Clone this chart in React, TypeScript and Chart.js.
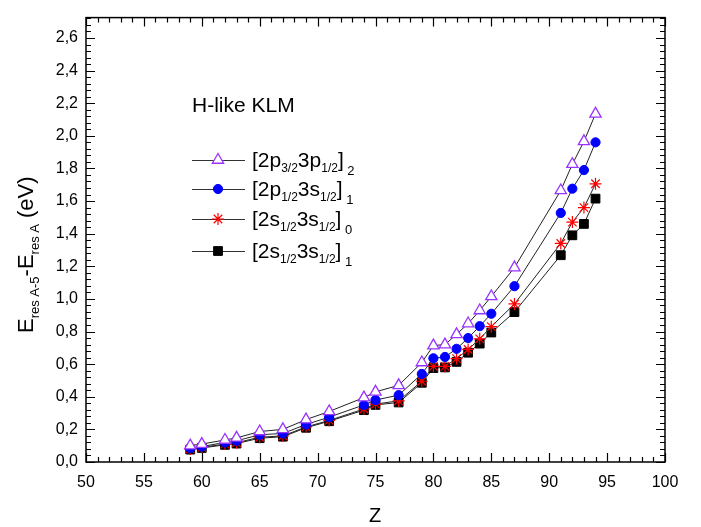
import React, { useEffect, useRef } from 'react';
import { Chart, registerables } from 'chart.js';
Chart.register(...registerables);

const zValues = [59, 60, 62, 63, 65, 67, 69, 71, 74, 75, 77, 79, 80, 81, 82, 83, 84, 85, 87, 91, 92, 93, 94];
const series2p32_3p12_J2 = [0.1, 0.11, 0.135, 0.148, 0.187, 0.2, 0.26, 0.31, 0.395, 0.43, 0.47, 0.61, 0.714, 0.72, 0.783, 0.849, 0.929, 1.015, 1.192, 1.665, 1.826, 1.966, 2.135];
const series2p12_3s12_J1 = [0.085, 0.095, 0.12, 0.13, 0.167, 0.175, 0.23, 0.275, 0.35, 0.38, 0.41, 0.54, 0.636, 0.644, 0.694, 0.76, 0.833, 0.909, 1.078, 1.527, 1.676, 1.79, 1.96];
const series2s12_3s12_J0 = [0.08, 0.09, 0.11, 0.118, 0.152, 0.16, 0.215, 0.255, 0.325, 0.355, 0.375, 0.495, 0.586, 0.586, 0.634, 0.69, 0.755, 0.83, 0.969, 1.34, 1.471, 1.56, 1.706];
const series2s12_3s12_J1 = [0.076, 0.086, 0.105, 0.113, 0.146, 0.155, 0.21, 0.25, 0.318, 0.35, 0.365, 0.486, 0.576, 0.58, 0.614, 0.67, 0.726, 0.794, 0.919, 1.268, 1.39, 1.46, 1.615];

const legendTitle = 'H-like KLM';
// each label: [text, kind] where kind 0 = normal, 1 = subscript, 2 = final subscript
const legendLabels: [string, number][][] = [
  [['[2p', 0], ['3/2', 1], ['3p', 0], ['1/2', 1], [']', 0], [' 2', 2]],
  [['[2p', 0], ['1/2', 1], ['3s', 0], ['1/2', 1], [']', 0], [' 1', 2]],
  [['[2s', 0], ['1/2', 1], ['3s', 0], ['1/2', 1], [']', 0], [' 0', 2]],
  [['[2s', 0], ['1/2', 1], ['3s', 0], ['1/2', 1], [']', 0], [' 1', 2]],
];
const yTitleParts: [string, number][] = [['E', 0], ['res A-5', 1], ['-E', 0], ['res A', 1], [' (eV)', 0]];
const xTitle = 'Z';

const FONT = '"Liberation Sans", Arial, sans-serif';
const PURPLE = '#9933FF';

function drawParts(ctx: CanvasRenderingContext2D, parts: [string, number][], x: number, y: number, mainSize: number, subSize: number, subOff: number, finSize: number, finOff: number) {
  let cx = x;
  for (const [t, k] of parts) {
    const size = k === 0 ? mainSize : k === 1 ? subSize : finSize;
    const off = k === 0 ? 0 : k === 1 ? subOff : finOff;
    ctx.font = `${size}px ${FONT}`;
    ctx.fillText(t, cx, y + off);
    cx += ctx.measureText(t).width;
  }
}

function drawPointShape(ctx: CanvasRenderingContext2D, style: string, r: number, cx: number, cy: number) {
  ctx.beginPath();
  if (style === 'triangle') {
    let rad = 0;
    ctx.moveTo(cx + Math.sin(rad) * r, cy - Math.cos(rad) * r);
    rad += (2 * Math.PI) / 3;
    ctx.lineTo(cx + Math.sin(rad) * r, cy - Math.cos(rad) * r);
    rad += (2 * Math.PI) / 3;
    ctx.lineTo(cx + Math.sin(rad) * r, cy - Math.cos(rad) * r);
    ctx.closePath();
    ctx.fill();
    ctx.stroke();
  } else if (style === 'circle') {
    ctx.arc(cx, cy, r, 0, Math.PI * 2);
    ctx.fill();
    ctx.stroke();
  } else if (style === 'rect') {
    const s = r * Math.SQRT1_2;
    ctx.rect(cx - s, cy - s, 2 * s, 2 * s);
    ctx.fill();
    ctx.stroke();
  } else if (style === 'star') {
    for (let k = 0; k < 4; k++) {
      const a = (k * Math.PI) / 4;
      ctx.moveTo(cx + Math.cos(a) * r, cy + Math.sin(a) * r);
      ctx.lineTo(cx - Math.cos(a) * r, cy - Math.sin(a) * r);
    }
    ctx.stroke();
  }
}

const decoPlugin = {
  id: 'deco',
  afterDraw(chart: any) {
    const { ctx, chartArea, scales } = chart;
    const { left, right, top, bottom } = chartArea;
    const x = scales.x;
    const y = scales.y;
    ctx.save();
    ctx.strokeStyle = '#000';
    ctx.lineWidth = 1.5;
    ctx.strokeRect(left, top, right - left, bottom - top);
    ctx.lineWidth = 1.2;
    ctx.beginPath();
    for (let v = 50; v <= 100; v += 1) {
      const px = Math.round(x.getPixelForValue(v)) + 0.5;
      const len = v % 5 === 0 ? 9 : 5;
      ctx.moveTo(px, bottom);
      ctx.lineTo(px, bottom - len);
      ctx.moveTo(px, top);
      ctx.lineTo(px, top + len);
    }
    for (let i = 0; i <= 100; i++) {
      const v = i * 0.04;
      if (v > y.max + 1e-9) break;
      const py = Math.round(y.getPixelForValue(v)) + 0.5;
      const len = i % 5 === 0 ? 9 : 5;
      ctx.moveTo(left, py);
      ctx.lineTo(left + len, py);
      ctx.moveTo(right, py);
      ctx.lineTo(right - len, py);
    }
    ctx.stroke();

    // legend
    ctx.fillStyle = '#000';
    ctx.textBaseline = 'alphabetic';
    ctx.textAlign = 'left';
    ctx.font = `21px ${FONT}`;
    ctx.fillText(legendTitle, 192, 112);
    const rowsY = [160, 189, 219, 251];
    const styles = chart.data.datasets;
    rowsY.forEach((ry, i) => {
      ctx.strokeStyle = '#333';
      ctx.lineWidth = 1;
      ctx.beginPath();
      ctx.moveTo(192, ry + 0.5);
      ctx.lineTo(245, ry + 0.5);
      ctx.stroke();
      const ds = styles[i];
      ctx.fillStyle = ds.pointBackgroundColor;
      ctx.strokeStyle = ds.pointBorderColor;
      ctx.lineWidth = ds.pointBorderWidth;
      drawPointShape(ctx, ds.pointStyle, ds.pointRadius, 218, ry);
      ctx.fillStyle = '#000';
      drawParts(ctx, legendLabels[i], 252, ry + 7, 21, 12, 5, 13, 8);
    });

    // x title
    ctx.fillStyle = '#000';
    ctx.textAlign = 'center';
    ctx.font = `20px ${FONT}`;
    ctx.fillText(xTitle, 375, 522);

    // y title
    ctx.save();
    ctx.translate(33, 333);
    ctx.rotate(-Math.PI / 2);
    ctx.textAlign = 'left';
    drawParts(ctx, yTitleParts, 0, 0, 22, 13, 6, 13, 6);
    ctx.restore();

    ctx.restore();
  },
};

export default function App() {
  const ref = useRef<HTMLCanvasElement>(null);
  useEffect(() => {
    document.body.style.margin = '0';
    const mk = (data: number[], style: string, fill: string, stroke: string, r: number, bw: number) => ({
      data: zValues.map((z, i) => ({ x: z, y: data[i] })),
      borderColor: '#222',
      borderWidth: 1,
      pointStyle: style,
      pointRadius: r,
      pointBackgroundColor: fill,
      pointBorderColor: stroke,
      pointBorderWidth: bw,
      showLine: true,
      fill: false,
    });
    const chart = new Chart(ref.current!, {
      type: 'scatter',
      data: {
        datasets: [
          mk(series2p32_3p12_J2, 'triangle', '#ffffff', PURPLE, 6.5, 1.3),
          mk(series2p12_3s12_J1, 'circle', '#0000FF', '#0000FF', 4.6, 1),
          mk(series2s12_3s12_J0, 'star', '#FF0000', '#FF0000', 6, 1.2),
          mk(series2s12_3s12_J1, 'rect', '#000000', '#000000', 6.2, 1),
        ] as any,
      },
      options: {
        responsive: false,
        animation: false,
        layout: { padding: { top: 7, right: 36, left: 0, bottom: 0 } },
        plugins: { legend: { display: false }, tooltip: { enabled: false } },
        scales: {
          x: {
            type: 'linear',
            min: 50,
            max: 100,
            afterFit: (s: any) => { s.height = 65; },
            grid: { display: false, drawTicks: false },
            border: { display: false },
            ticks: { stepSize: 5, padding: 11, color: '#000', font: { family: FONT, size: 16 }, maxRotation: 0 },
          },
          y: {
            type: 'linear',
            min: 0,
            max: 2.725,
            afterFit: (s: any) => { s.width = 86; },
            grid: { display: false, drawTicks: false },
            border: { display: false },
            ticks: {
              stepSize: 0.2,
              includeBounds: false,
              padding: 8,
              color: '#000',
              font: { family: FONT, size: 16 },
              callback: (v: any) => Number(v).toFixed(1).replace('.', ','),
            },
          },
        },
      },
      plugins: [decoPlugin],
    });
    return () => chart.destroy();
  }, []);
  return <canvas ref={ref} width={701} height={527} style={{ display: 'block' }} />;
}
